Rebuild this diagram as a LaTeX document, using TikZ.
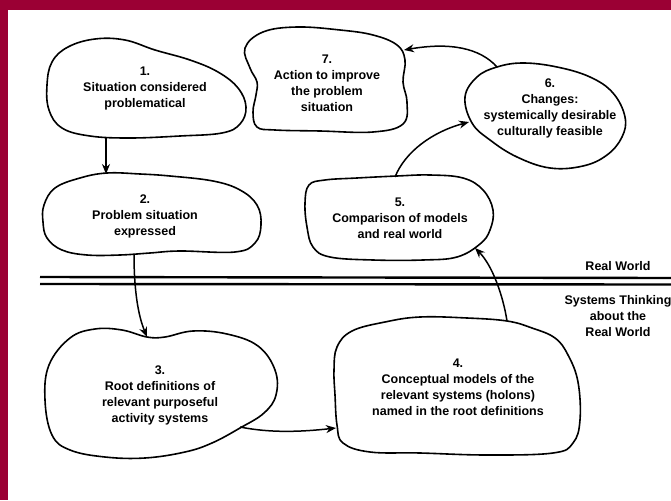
\documentclass[tikz,border=0pt]{standalone}
\usepackage{fontspec}
\setmainfont{Liberation Sans}
\usetikzlibrary{arrows.meta}
\definecolor{frame}{RGB}{155,0,52}
\begin{document}
\begin{tikzpicture}[x=1pt,y=-1pt,
  blob/.style={draw=black,line width=1.6pt,line join=round},
  arr/.style={draw=black,line width=1.5pt,-{Stealth[length=10pt,width=8pt]}},
  lbl/.style={align=center,inner sep=0pt,font=\fontsize{12.5}{16}\selectfont\bfseries},
  divider/.style={draw=black,line width=2.4pt}]
\useasboundingbox (0,0) rectangle (671,500);
\fill[white] (0,0) rectangle (671,500);
% coloured frame along the top and left edges
\fill[frame] (0,0) rectangle (671,10);
\fill[frame] (0,0) rectangle (8,500);

% outlines of the seven stages
\draw[blob] plot[smooth cycle,tension=0.65] coordinates {(47,85) (52,62) (68,47) (95,39) (125,40) (155,50) (190,60) (218,72) (238,88) (246,107) (240,124) (222,133) (180,136) (130,138) (90,136) (62,128) (49,110)};
\draw[blob] plot[smooth cycle,tension=0.65] coordinates {(44,205) (55,188) (80,178) (107,173) (140,174) (170,176) (213,181) (240,190) (257,205) (261,225) (255,243) (235,252) (180,251) (150,253) (120,255) (87,255) (62,250) (47,238) (43,222)};
\draw[blob] plot[smooth cycle,tension=0.65] coordinates {(45,400) (49,365) (70,338) (95,329) (122,330) (147,337) (165,337) (193,331) (227,334) (258,346) (275,370) (276,395) (264,413) (240,428) (212,443) (185,452) (145,458) (105,457) (70,450) (52,435)};
\draw[blob] plot[smooth cycle,tension=0.65] coordinates {(335,395) (334,370) (337,347) (352,331) (385,322) (420,317) (467,318) (507,321) (532,328) (555,338) (568,355) (578,382) (580,420) (573,443) (553,453) (487,455) (420,453) (370,452) (343,443) (337,425)};
\draw[blob] plot[smooth cycle,tension=0.65] coordinates {(305,203) (309,185) (325,180) (357,178) (397,176) (430,175) (463,178) (483,190) (493,210) (490,230) (480,244) (457,257) (423,260) (373,260) (330,257) (313,247) (307,227)};
\draw[blob] plot[smooth cycle,tension=0.65] coordinates {(465,97) (477,77) (497,67) (523,63) (557,67) (590,77) (613,93) (625,117) (622,137) (607,155) (583,166) (550,168) (517,157) (490,140) (472,123)};
\draw[blob] plot[smooth cycle,tension=0.65] coordinates {(245,48) (263,32) (297,27) (340,30) (373,35) (397,45) (405,60) (403,82) (407,102) (403,124) (373,132) (320,131) (275,130) (257,127) (253,112) (256,95) (257,82) (250,68)};

% stage texts
\node[lbl] (t1) at (145,88) {1.\\Situation considered\\problematical};
\node[lbl] (t2) at (145,216) {2.\\Problem situation\\expressed};
\node[lbl] (t3) at (160,395) {3.\\Root definitions of\\relevant purposeful\\activity systems};
\node[lbl] (t4) at (458,387) {4.\\Conceptual models of the\\relevant systems (holons)\\named in the root definitions};
\node[lbl] (t5) at (400,218) {5.\\Comparison of models\\and real world};
\node[lbl] (t6) at (550,108) {6.\\Changes:\\systemically desirable\\culturally feasible};
\node[lbl] (t7) at (327,83) {7.\\Action to improve\\the problem\\situation};

% boundary between the real world and systems thinking
\coordinate (wl1) at (40,277);
\coordinate (wr1) at (671,278);
\coordinate (wl2) at (40,284);
\coordinate (wr2) at (671,284.5);
\draw[divider] (wl1) -- (wr1);
\draw[divider] (wl2) -- (wr2);
\node[lbl] (rw) at (618,266) {Real World};
\node[lbl] (st) at (618,316) {Systems Thinking\\about the\\Real World};

% connector end points on the outlines
\coordinate (s1) at (106,137);
\coordinate (e2) at (106,174);
\coordinate (s2) at (134,254);
\coordinate (e3) at (147,337);
\coordinate (s3) at (240,427);
\coordinate (e4) at (336,428);
\coordinate (s4) at (507,321);
\coordinate (e5) at (475,248);
\coordinate (s5) at (395,177);
\coordinate (e6) at (469,122);
\coordinate (s6) at (497,67);
\coordinate (e7) at (404,50);

\draw[arr] (s1) -- (e2);
\draw[arr] (s2) .. controls (134,290) and (138,315) .. (e3);
\draw[arr] (s3) .. controls (270,433) and (300,432) .. (e4);
\draw[arr] (s4) .. controls (503,295) and (492,265) .. (e5);
\draw[arr] (s5) .. controls (405,152) and (432,132) .. (e6);
\draw[arr] (s6) .. controls (480,48) and (450,42) .. (e7);
\end{tikzpicture}
\end{document}
